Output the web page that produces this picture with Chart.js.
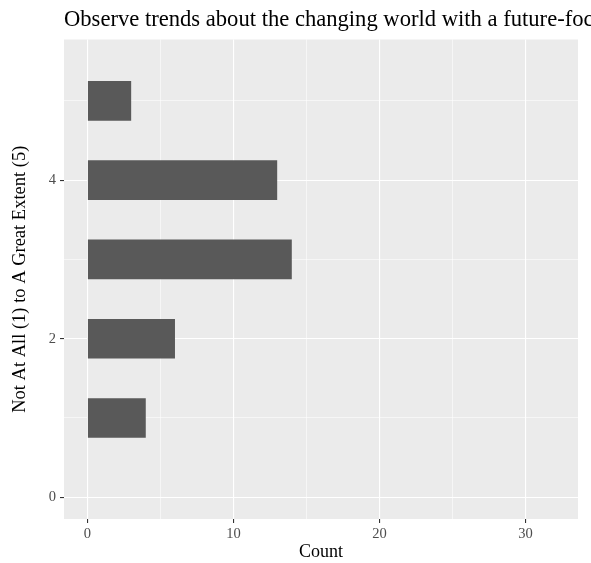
<!DOCTYPE html>
<html>
<head>
<meta charset="utf-8">
<script src="https://cdn.jsdelivr.net/npm/chart.js@4/dist/chart.umd.min.js"></script>
<style>
  html, body { margin: 0; padding: 0; background: #ffffff; overflow: hidden; }
  #wrap { position: relative; width: 591px; height: 563px; }
</style>
</head>
<body>
<div id="wrap"><canvas id="c" width="591" height="563"></canvas></div>
<script>
const titleText = "Observe trends about the changing world with a future-focused mindset";
const xTitle = "Count";
const yTitle = "Not At All (1) to A Great Extent (5)";
const ratings = [1, 2, 3, 4, 5];
const counts = [4, 6, 14, 13, 3];
const xTickValues = [0, 5, 10, 15, 20, 25, 30];
const xTickLabels = [0, 10, 20, 30];
const yTickValues = [0, 1, 2, 3, 4, 5];
const yTickLabels = [0, 2, 4];

const FONT = "'Liberation Serif', 'Times New Roman', serif";

const panelBg = {
  id: 'panelBg',
  beforeDraw(chart) {
    const { ctx, chartArea: a } = chart;
    ctx.save();
    ctx.fillStyle = '#EBEBEB';
    ctx.fillRect(a.left, a.top, a.right - a.left, a.bottom - a.top);
    ctx.restore();
  }
};
const titlePlugin = {
  id: 'ggTitle',
  afterDraw(chart) {
    const { ctx, chartArea: a } = chart;
    ctx.save();
    ctx.font = "22.6px " + FONT;
    ctx.fillStyle = '#000000';
    ctx.textBaseline = 'alphabetic';
    ctx.textAlign = 'left';
    ctx.fillText(titleText, a.left, 26);
    ctx.restore();
  }
};

const data = {
  datasets: [{
    data: ratings.map((r, i) => ({ x: counts[i], y: r })),
    backgroundColor: '#595959',
    borderWidth: 0,
    barPercentage: 0.5,
    categoryPercentage: 1.0
  }]
};

new Chart(document.getElementById('c'), {
  type: 'bar',
  data,
  plugins: [panelBg, titlePlugin],
  options: {
    responsive: false,
    animation: false,
    indexAxis: 'y',
    layout: { padding: { top: 39.5, right: 13, left: 0, bottom: 0 } },
    plugins: { legend: { display: false }, tooltip: { enabled: false }, title: { display: false } },
    scales: {
      x: {
        type: 'linear',
        min: -1.6,
        max: 33.6,
        offset: false,
        afterBuildTicks(s) { s.ticks = xTickValues.map(v => ({ value: v })); },
        afterFit(s) { s.height = 44; },
        border: { display: false },
        grid: {
          offset: false,
          color: '#FFFFFF',
          lineWidth: c => (c.tick && c.tick.value % 10 === 0) ? 1.1 : 0.55,
          tickColor: c => (c.tick && c.tick.value % 10 === 0) ? '#333333' : 'rgba(0,0,0,0)',
          tickLength: 4,
          drawOnChartArea: true
        },
        ticks: {
          autoSkip: false,
          maxRotation: 0,
          padding: 2,
          color: '#4D4D4D',
          font: { family: FONT, size: 14.5 },
          callback: v => xTickLabels.includes(v) ? String(v) : ''
        },
        title: {
          display: true, text: xTitle, color: '#000000',
          font: { family: FONT, size: 18 }, padding: { top: 0, bottom: 0 }
        }
      },
      y: {
        type: 'linear',
        min: -0.275,
        max: 5.775,
        offset: false,
        afterBuildTicks(s) { s.ticks = yTickValues.map(v => ({ value: v })); },
        afterFit(s) { s.width = 64; },
        border: { display: false },
        grid: {
          offset: false,
          color: '#FFFFFF',
          lineWidth: c => (c.tick && c.tick.value % 2 === 0) ? 1.1 : 0.55,
          tickColor: c => (c.tick && c.tick.value % 2 === 0) ? '#333333' : 'rgba(0,0,0,0)',
          tickLength: 4
        },
        ticks: {
          autoSkip: false,
          padding: 4,
          color: '#4D4D4D',
          font: { family: FONT, size: 14.5 },
          callback: v => yTickLabels.includes(v) ? String(v) : ''
        },
        title: {
          display: true, text: yTitle, color: '#000000',
          font: { family: FONT, size: 18.5 }, padding: { top: 9, bottom: 0 }
        }
      }
    }
  }
});
</script>
</body>
</html>
